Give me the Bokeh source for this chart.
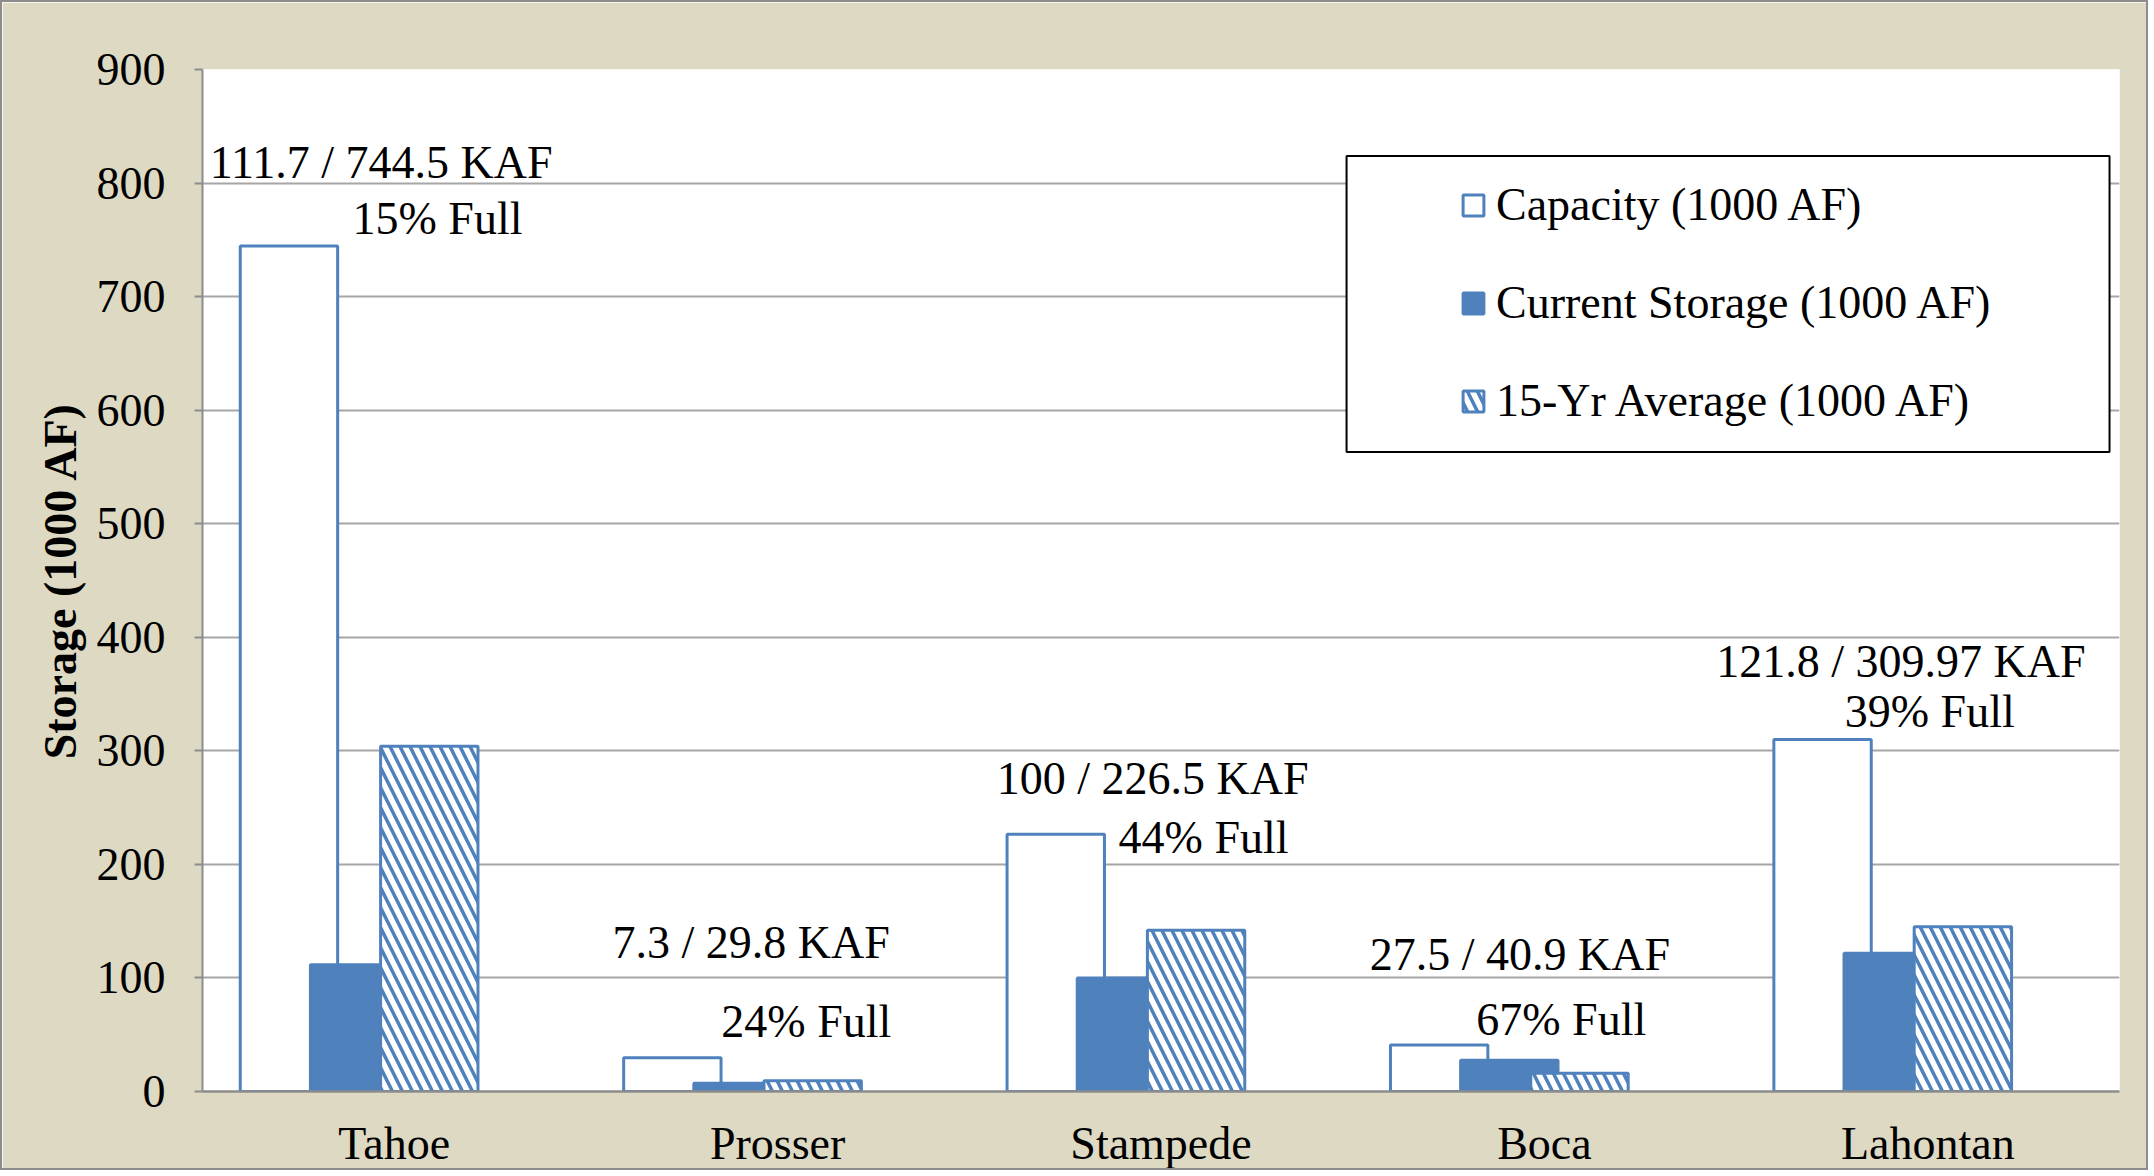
from bokeh.plotting import figure
from bokeh.models import (ColumnDataSource, FactorRange, Range1d, FixedTicker,
                          Legend, LegendItem, BoxAnnotation)
from bokeh.transform import dodge
from bokeh.embed import file_html
from bokeh.resources import INLINE
from bokeh.core.properties import value

# ---------------- data ----------------
reservoirs = ["Tahoe", "Prosser", "Stampede", "Boca", "Lahontan"]
capacity = [744.5, 29.8, 226.5, 40.9, 309.97]
current = [111.7, 7.3, 100, 27.5, 121.8]
avg15 = [304, 9.5, 142, 16, 145]
y_ticks = [0, 100, 200, 300, 400, 500, 600, 700, 800, 900]
series_names = ["Capacity (1000 AF)", "Current Storage (1000 AF)", "15-Yr Average (1000 AF)"]
axis_title = "Storage (1000 AF)"

# label placement (offset within category band, y position in data units)
lab1_dx = [-0.034, -0.069, -0.022, -0.064, -0.070]
lab1_y = [818, 131, 276, 121, 379]
lab2_dx = [0.113, 0.075, 0.111, 0.044, 0.005]
lab2_y = [769, 62, 224, 63, 335]

# ---------------- style ----------------
FONT = "Liberation Serif"
BLUE = "#4F81BD"
BEIGE = "#DDD9C3"
FS = "46px"

p = figure(x_range=FactorRange(factors=reservoirs, range_padding=0),
           y_range=Range1d(0, 900),
           width=2148, height=1170,
           output_backend="svg", toolbar_location=None,
           min_border_left=200, min_border_right=31,
           min_border_top=67, min_border_bottom=81,
           background_fill_color="white", border_fill_color=BEIGE,
           outline_line_color=None)
p.styles = {"border": "2px solid #8C8C8C"}

src = ColumnDataSource(dict(res=reservoirs, capacity=capacity, current=current, avg=avg15))

W = 0.254
STEP = 0.183
r1 = p.vbar(x=dodge("res", -1.5 * STEP, range=p.x_range), top="capacity", width=W,
            source=src, fill_color="white", line_color=BLUE, line_width=3)
r2 = p.vbar(x=dodge("res", -0.5 * STEP, range=p.x_range), top="current", width=W,
            source=src, fill_color=BLUE, line_color=BLUE, line_width=3)
r3 = p.vbar(x=dodge("res", 0.5 * STEP, range=p.x_range), top="avg", width=W,
            source=src, fill_color="white", line_color=BLUE, line_width=3,
            hatch_pattern="\\", hatch_color=BLUE, hatch_scale=20, hatch_weight=3.5)

# data labels
def fmt(v):
    return "{:g}".format(v)

lab_x, lab_y, lab_t = [], [], []
for i, (c, cap) in enumerate(zip(current, capacity)):
    lab_x.append(i + 0.5 + lab1_dx[i]); lab_y.append(lab1_y[i])
    lab_t.append(f"{fmt(c)} / {fmt(cap)} KAF")
    lab_x.append(i + 0.5 + lab2_dx[i]); lab_y.append(lab2_y[i])
    lab_t.append(f"{round(c / cap * 100)}% Full")
lab_src = ColumnDataSource(dict(x=lab_x, y=lab_y, text=lab_t))
p.text(x="x", y="y", text="text", source=lab_src, text_font=value(FONT),
       text_font_size=FS, text_align="center", text_baseline="middle", text_color="black")

# axes
p.yaxis.ticker = FixedTicker(ticks=y_ticks)
p.yaxis.axis_label = axis_title
p.yaxis.axis_label_text_font = FONT
p.yaxis.axis_label_text_font_size = FS
p.yaxis.axis_label_text_font_style = "bold"
p.yaxis.axis_label_text_color = "black"
p.yaxis.axis_label_standoff = 8
p.yaxis.major_label_text_font = FONT
p.yaxis.major_label_text_font_size = FS
p.yaxis.major_label_text_color = "black"
p.yaxis.major_label_standoff = 29
p.yaxis.major_tick_in = 0
p.yaxis.major_tick_out = 8
p.yaxis.major_tick_line_color = "#8C8C8C"
p.yaxis.major_tick_line_width = 2
p.yaxis.minor_tick_line_color = None
p.yaxis.axis_line_color = "#8C8C8C"
p.yaxis.axis_line_width = 2

p.xaxis.major_label_text_font = FONT
p.xaxis.major_label_text_font_size = FS
p.xaxis.major_label_text_color = "black"
p.xaxis.major_label_standoff = 20
p.xaxis.major_tick_line_color = None
p.xaxis.minor_tick_line_color = None
p.xaxis.axis_line_color = "#8C8C8C"
p.xaxis.axis_line_width = 2.5

p.xgrid.visible = False
p.ygrid.grid_line_color = "#A6A6A6"
p.ygrid.grid_line_width = 2

# legend box + legend
box = BoxAnnotation(left=2.984, right=4.974, top=823.9, bottom=563.2,
                    fill_color="white", fill_alpha=1.0,
                    line_color="black", line_width=2, line_alpha=1.0)
p.add_layout(box)

legend = Legend(items=[LegendItem(label=series_names[0], renderers=[r1]),
                       LegendItem(label=series_names[1], renderers=[r2]),
                       LegendItem(label=series_names[2], renderers=[r3])],
                location=(1258, 664), padding=20, spacing=45,
                glyph_width=26, glyph_height=26, label_height=52,
                label_standoff=10, label_text_font=FONT, label_text_font_size=FS,
                label_text_color="black",
                border_line_color=None, background_fill_alpha=0)
p.add_layout(legend)

open("out.html", "w").write(file_html(p, INLINE))
